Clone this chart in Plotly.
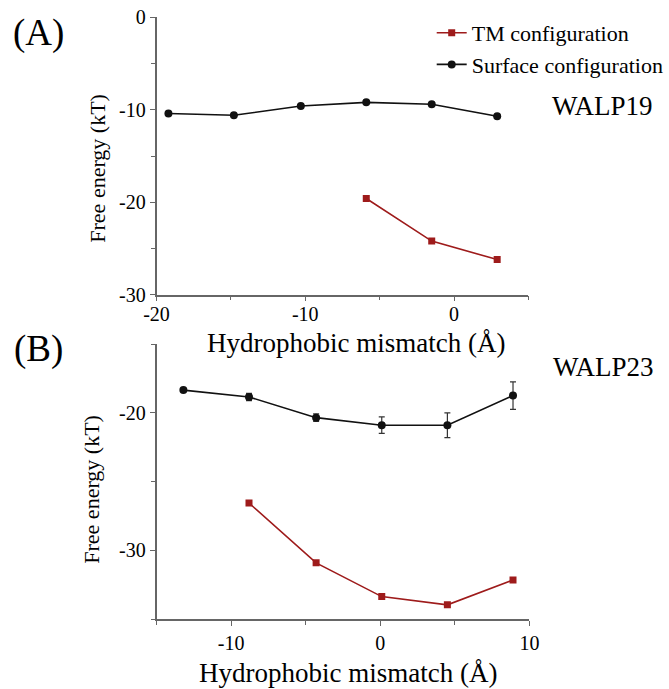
import plotly.graph_objects as go

# ---------------- data ----------------
# Panel A (WALP19)
a_surf_x = [-19.2, -14.8, -10.3, -5.9, -1.5, 2.9]
a_surf_y = [-10.4, -10.6, -9.6, -9.2, -9.4, -10.7]
a_tm_x = [-5.9, -1.5, 2.9]
a_tm_y = [-19.6, -24.2, -26.2]

# Panel B (WALP23)
b_surf_x = [-13.2, -8.8, -4.3, 0.1, 4.5, 8.9]
b_surf_y = [-18.35, -18.85, -20.35, -20.9, -20.9, -18.75]
b_surf_err = [0.1, 0.27, 0.27, 0.6, 0.9, 1.0]
b_tm_x = [-8.8, -4.3, 0.1, 4.5, 8.9]
b_tm_y = [-26.55, -30.9, -33.35, -33.95, -32.15]

# tick values / labels (hyphen-minus as in the reference)
a_xticks = [-20, -10, 0]
a_xtext = ["-20", "-10", "0"]
a_yticks = [-30, -20, -10, 0]
a_ytext = ["-30", "-20", "-10", "0"]
b_xticks = [-10, 0, 10]
b_xtext = ["-10", "0", "10"]
b_yticks = [-30, -20]
b_ytext = ["-30", "-20"]

series_names = ["TM configuration", "Surface configuration"]
panel_labels = ["(A)", "(B)"]
peptide_labels = ["WALP19", "WALP23"]
x_title = "Hydrophobic mismatch (Å)"
y_title = "Free energy (kT)"

# ---------------- style ----------------
W, H = 669, 689
FONT = "Liberation Serif"
RED = "#9e1b1b"
BLACK = "#111111"
AXC = "#666666"


def px_x(p):
    return p / W


def px_y(p):
    return 1 - p / H


fig = go.Figure()

# Panel A
fig.add_trace(go.Scatter(x=a_tm_x, y=a_tm_y, mode="lines+markers", name=series_names[0],
                         line=dict(color=RED, width=1.6),
                         marker=dict(symbol="square", size=7, color=RED),
                         xaxis="x", yaxis="y", legendrank=1))
fig.add_trace(go.Scatter(x=a_surf_x, y=a_surf_y, mode="lines+markers", name=series_names[1],
                         line=dict(color=BLACK, width=1.6),
                         marker=dict(symbol="circle", size=8, color=BLACK),
                         xaxis="x", yaxis="y", legendrank=2))

# Panel B
fig.add_trace(go.Scatter(x=b_surf_x, y=b_surf_y, mode="lines+markers", showlegend=False,
                         line=dict(color=BLACK, width=1.6),
                         marker=dict(symbol="circle", size=8, color=BLACK),
                         error_y=dict(type="data", array=b_surf_err, color="#333333",
                                      thickness=1.2, width=3),
                         xaxis="x2", yaxis="y2"))
fig.add_trace(go.Scatter(x=b_tm_x, y=b_tm_y, mode="lines+markers", showlegend=False,
                         line=dict(color=RED, width=1.6),
                         marker=dict(symbol="square", size=7, color=RED),
                         xaxis="x2", yaxis="y2"))

axis_common = dict(showline=True, linecolor=AXC, linewidth=1.5, showgrid=False,
                   zeroline=False, ticks="outside", ticklen=5, tickwidth=1.3,
                   tickcolor=AXC, automargin=False,
                   tickfont=dict(family=FONT, size=20, color="black"),
                   minor=dict(ticks="outside", ticklen=4, tickwidth=1.2, tickcolor=AXC,
                              tickmode="linear", dtick=5))

fig.update_layout(
    width=W, height=H,
    margin=dict(l=0, r=0, t=0, b=0),
    paper_bgcolor="white", plot_bgcolor="white",
    font=dict(family=FONT, color="black"),
    xaxis=dict(domain=[px_x(157), px_x(530)], range=[-20, 5], anchor="y",
               tickmode="array", tickvals=a_xticks, ticktext=a_xtext,
               ticklabelstandoff=-4, **axis_common),
    yaxis=dict(domain=[px_y(294.7), px_y(17.3)], range=[-30, 0], anchor="x",
               tickmode="array", tickvals=a_yticks, ticktext=a_ytext, **axis_common),
    xaxis2=dict(domain=[px_x(157), px_x(531)], range=[-15, 10], anchor="y2",
                tickmode="array", tickvals=b_xticks, ticktext=b_xtext, **axis_common),
    yaxis2=dict(domain=[px_y(619.3), px_y(344)], range=[-35, -15], anchor="x2",
                tickmode="array", tickvals=b_yticks, ticktext=b_ytext, **axis_common),
    legend=dict(x=px_x(433), y=px_y(12), xanchor="left", yanchor="top",
                font=dict(family=FONT, size=22, color="black"),
                bgcolor="rgba(0,0,0,0)", tracegroupgap=0, itemwidth=30),
    showlegend=True,
)

annotations = [
    dict(text=panel_labels[0], x=px_x(39), y=px_y(33), font=dict(size=37)),
    dict(text=panel_labels[1], x=px_x(39), y=px_y(349), font=dict(size=37)),
    dict(text=peptide_labels[0], x=px_x(604), y=px_y(106), font=dict(size=27)),
    dict(text=peptide_labels[1], x=px_x(605), y=px_y(367), font=dict(size=27)),
    dict(text=x_title, x=px_x(357), y=px_y(343), font=dict(size=27)),
    dict(text=x_title, x=px_x(349), y=px_y(673), font=dict(size=27)),
    dict(text=y_title, x=px_x(97), y=px_y(168), font=dict(size=22), textangle=-90),
    dict(text=y_title, x=px_x(91), y=px_y(489), font=dict(size=22), textangle=-90),
]
for a in annotations:
    a.update(xref="paper", yref="paper", showarrow=False, xanchor="center", yanchor="middle")
    a["font"].update(family=FONT, color="black")
fig.update_layout(annotations=annotations)

fig.write_html("out.html")
